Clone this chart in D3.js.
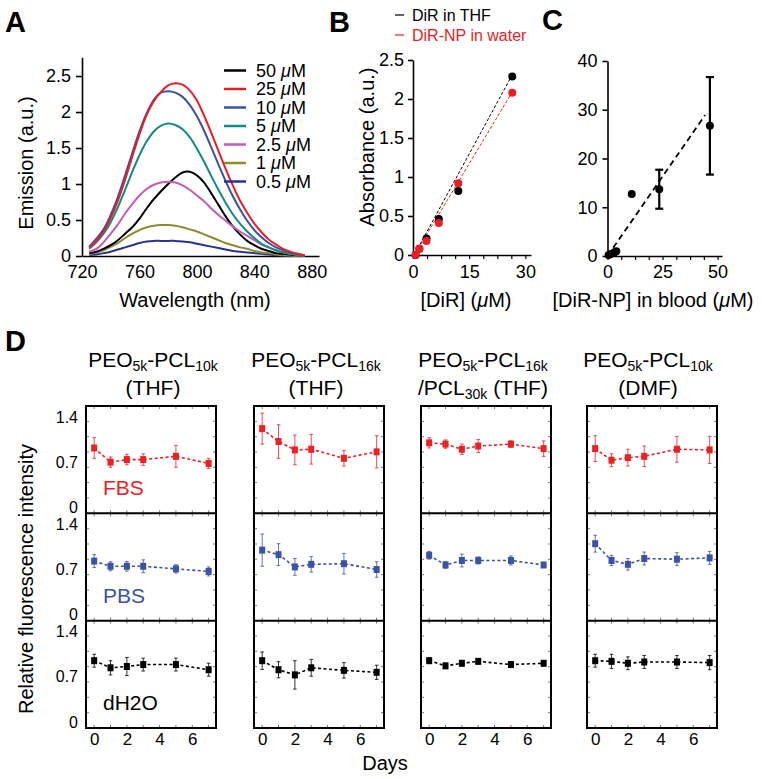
<!DOCTYPE html>
<html><head><meta charset="utf-8">
<script src="https://cdn.jsdelivr.net/npm/d3@7/dist/d3.min.js"></script>
<style>
body{margin:0;background:#fff;}
svg text{font-family:"Liberation Sans",Arial,Helvetica,sans-serif;}
</style></head><body>
<svg id="fig" width="762" height="779" xmlns="http://www.w3.org/2000/svg"></svg>
<script>
// ================= DATA =================
// Panel A: emission spectra
const wavelengths = [725,730,735,740,745,750,755,760,765,770,775,780,785,790,795,800,805,810,815,820,825,830,835,840,845,850,855,860,865,870,875];
const em50  = [0.04,0.06,0.10,0.15,0.22,0.31,0.40,0.52,0.66,0.79,0.90,1.00,1.09,1.16,1.17,1.12,1.02,0.87,0.71,0.55,0.41,0.30,0.21,0.15,0.10,0.07,0.04,0.03,0.02,0.01,0.00];
const em25  = [0.12,0.21,0.34,0.53,0.77,1.06,1.38,1.69,1.96,2.15,2.28,2.37,2.40,2.38,2.30,2.16,1.95,1.71,1.46,1.21,0.98,0.77,0.60,0.45,0.33,0.23,0.16,0.10,0.06,0.03,0.01];
const em10  = [0.13,0.24,0.37,0.57,0.82,1.12,1.43,1.73,1.98,2.17,2.27,2.29,2.27,2.21,2.10,1.94,1.74,1.51,1.27,1.04,0.83,0.65,0.49,0.36,0.26,0.18,0.12,0.08,0.05,0.03,0.01];
const em5   = [0.10,0.19,0.31,0.47,0.68,0.92,1.17,1.40,1.59,1.73,1.81,1.84,1.82,1.76,1.65,1.49,1.31,1.11,0.92,0.74,0.58,0.45,0.34,0.25,0.17,0.12,0.08,0.05,0.03,0.015,0.005];
const em2_5 = [0.06,0.10,0.19,0.31,0.44,0.59,0.72,0.84,0.93,0.99,1.02,1.03,1.02,0.98,0.92,0.84,0.76,0.66,0.57,0.49,0.41,0.34,0.28,0.22,0.16,0.12,0.08,0.05,0.03,0.015,0.005];
const em1   = [0.02,0.05,0.08,0.13,0.18,0.25,0.31,0.36,0.40,0.42,0.43,0.43,0.42,0.40,0.37,0.34,0.30,0.26,0.22,0.18,0.15,0.12,0.10,0.07,0.05,0.04,0.02,0.01,0.01,0,0];
const em0_5 = [0.01,0.02,0.04,0.06,0.09,0.12,0.15,0.18,0.20,0.21,0.21,0.21,0.21,0.20,0.19,0.17,0.15,0.13,0.11,0.09,0.07,0.06,0.05,0.04,0.03,0.02,0.01,0.01,0,0,0];
const concLabels = ["50","25","10","5","2.5","1","0.5"];
const concColors = ["#000000","#ee1d23","#3953a3","#138b83","#c55cb6","#8c8c2e","#2d3190"];
const aWaveTicks = [720,760,800,840,880];
const aEmTicks = [0,0.5,1,1.5,2,2.5];

// Panel B: absorbance vs concentration
const bConc    = [0.7,1.7,3.6,6.9,12.1,26.5];
const bAbsTHF  = [0.00,0.08,0.21,0.46,0.82,2.29];
const bAbsNP   = [0.00,0.08,0.18,0.41,0.92,2.08];
const bFitX    = [0,26.5];
const bFitTHF  = [-0.03,2.31];
const bFitNP   = [-0.03,2.09];
const bXTicks  = [0,15,30];
const bYTicks  = [0,0.5,1,1.5,2,2.5];

// Panel C: signal vs [DiR-NP] in blood
const cConc   = [0.5,1.5,3,4,11,23.5,46.5];
const cSignal = [0.2,0.4,0.7,1.0,12.7,13.7,26.7];
const cErr    = [0,0,0,0,0,4,10];
const cFitX   = [0,44.3];
const cFitY   = [0,28.9];
const cXTicks = [0,25,50];
const cYTicks = [0,10,20,30,40];

// Panel D: relative fluorescence over days
const days = [0,1,2,3,5,7];
const dDayTicks = [0,2,4,6];
const dYTicks = [0,0.7,1.4];
const fbsVals = [[0.92,0.70,0.74,0.74,0.79,0.68],[1.22,1.02,0.89,0.90,0.76,0.86],[1.00,0.98,0.90,0.95,0.98,0.91],[0.91,0.73,0.77,0.79,0.90,0.89]];
const fbsErr  = [[0.16,0.08,0.08,0.09,0.17,0.08],[0.24,0.26,0.23,0.23,0.12,0.25],[0.08,0.065,0.08,0.10,0.05,0.12],[0.20,0.10,0.13,0.16,0.20,0.21]];
const pbsVals = [[0.83,0.75,0.75,0.75,0.71,0.67],[1.00,0.93,0.74,0.78,0.79,0.70],[0.92,0.77,0.84,0.84,0.84,0.77],[1.10,0.84,0.78,0.87,0.86,0.88]];
const pbsErr  = [[0.10,0.07,0.075,0.10,0.065,0.07],[0.25,0.17,0.13,0.12,0.16,0.12],[0.06,0.05,0.10,0.055,0.07,0.04],[0.13,0.08,0.09,0.10,0.10,0.10]];
const h2oVals = [[0.95,0.84,0.86,0.89,0.89,0.81],[0.95,0.81,0.73,0.84,0.80,0.77],[0.95,0.87,0.91,0.94,0.89,0.91],[0.95,0.94,0.91,0.93,0.93,0.92]];
const h2oErr  = [[0.10,0.11,0.14,0.10,0.10,0.10],[0.135,0.125,0.22,0.13,0.12,0.11],[0.04,0.04,0.04,0.04,0.04,0.04],[0.10,0.11,0.10,0.10,0.10,0.11]];
const mediaLabels = ["FBS","PBS","dH2O"];
const mediaColors = ["#ed2024","#3a53a6","#000000"];
const dTitles = [
  [[["PEO"],["5k",1],["-PCL"],["10k",1]], [["(THF)"]]],
  [[["PEO"],["5k",1],["-PCL"],["16k",1]], [["(THF)"]]],
  [[["PEO"],["5k",1],["-PCL"],["16k",1]], [["/PCL"],["30k",1],[" (THF)"]]],
  [[["PEO"],["5k",1],["-PCL"],["10k",1]], [["(DMF)"]]]
];

// ================= DRAWING =================
const svg = d3.select("#fig");
const FONT = '"Liberation Sans",Arial,Helvetica,sans-serif';

function styleAxis(g, fs, sw){
  g.attr("font-size", fs).attr("font-family", FONT);
  g.selectAll("path,line").attr("stroke","#000").attr("stroke-width", sw||1.6);
  g.selectAll("text").attr("fill","#000");
}
function label(x,y,txt,opts){
  const t = svg.append("text").attr("x",x).attr("y",y).text(txt)
    .attr("font-size",(opts&&opts.fs)||20).attr("text-anchor",(opts&&opts.anchor)||"middle")
    .attr("fill",(opts&&opts.fill)||"#000");
  if(opts&&opts.bold) t.attr("font-weight","bold");
  if(opts&&opts.rot) t.attr("transform",`rotate(-90 ${x} ${y})`);
  return t;
}
function muText(x,y,pre,post,opts){
  const t = svg.append("text").attr("x",x).attr("y",y)
    .attr("font-size",(opts&&opts.fs)||20).attr("text-anchor",(opts&&opts.anchor)||"middle")
    .attr("fill",(opts&&opts.fill)||"#000");
  if(opts&&opts.rot) t.attr("transform",`rotate(-90 ${x} ${y})`);
  t.append("tspan").text(pre);
  t.append("tspan").attr("font-style","italic").text("\u03bc");
  t.append("tspan").text(post);
  return t;
}

// Panel letters
label(5,32,"A",{fs:29,bold:true,anchor:"start"});
label(329,32,"B",{fs:29,bold:true,anchor:"start"});
label(542,30,"C",{fs:29,bold:true,anchor:"start"});
label(5,351,"D",{fs:29,bold:true,anchor:"start"});

// ---------- Panel A ----------
const xA = d3.scaleLinear().domain([720,885]).range([82,319]);
const yA = d3.scaleLinear().domain([0,2.76]).range([256,57.3]);
const gAx = svg.append("g").attr("transform","translate(0,256)")
  .call(d3.axisBottom(xA).tickValues(aWaveTicks).tickSize(0).tickPadding(9).tickSizeOuter(0).tickFormat(d=>d));
styleAxis(gAx,18);
const gAy = svg.append("g").attr("transform",`translate(${xA(720)},0)`)
  .call(d3.axisLeft(yA).tickValues(aEmTicks).tickSize(6).tickPadding(5).tickSizeOuter(0).tickFormat(d=>d));
styleAxis(gAy,18);
const series = [em50,em25,em10,em5,em2_5,em1,em0_5];
const lineA = d3.line().x((d,i)=>xA(wavelengths[i])).y(d=>yA(d)).curve(d3.curveCatmullRom);
[6,5,0,4,3,2,1].forEach(k=>{
  svg.append("path").datum(series[k]).attr("d",lineA).attr("fill","none")
    .attr("stroke",concColors[k]).attr("stroke-width",2);
});
concLabels.forEach((c,i)=>{
  const cy = 70.5 + i*18.5;
  svg.append("line").attr("x1",224).attr("x2",246).attr("y1",cy).attr("y2",cy)
    .attr("stroke",concColors[i]).attr("stroke-width",2.5);
  muText(256,cy+6.3,c+" ","M",{fs:18,anchor:"start"});
});
label(33,163,"Emission (a.u.)",{fs:20,rot:true});
label(195,307,"Wavelength (nm)",{fs:20});

// ---------- Panel B ----------
const xB = d3.scaleLinear().domain([0,31.5]).range([413,531]);
const yB = d3.scaleLinear().domain([0,2.5]).range([255,60]);
const gBx = svg.append("g").attr("transform","translate(0,255)")
  .call(d3.axisBottom(xB).tickValues(bXTicks).tickSize(0).tickPadding(10).tickSizeOuter(0).tickFormat(d=>d));
styleAxis(gBx,18);
const gBxm = svg.append("g").attr("transform","translate(0,255)")
  .call(d3.axisBottom(xB).tickValues(d3.range(0,30.01,3.75)).tickSize(4).tickFormat(""));
gBxm.select(".domain").remove(); styleAxis(gBxm,10,1.2);
const gBy = svg.append("g").attr("transform",`translate(${xB(0)},0)`)
  .call(d3.axisLeft(yB).tickValues(bYTicks).tickSize(5).tickPadding(4).tickSizeOuter(0).tickFormat(d=>d));
styleAxis(gBy,18);
const lineB = d3.line().x((d,i)=>xB(bFitX[i])).y(d=>yB(d));
svg.append("path").datum(bFitTHF).attr("d",lineB).attr("stroke","#000").attr("stroke-width",1).attr("stroke-dasharray","3,2").attr("fill","none");
svg.append("path").datum(bFitNP).attr("d",lineB).attr("stroke","#ee1d23").attr("stroke-width",1).attr("stroke-dasharray","3,2").attr("fill","none");
bConc.forEach((c,i)=>{
  svg.append("circle").attr("cx",xB(c)).attr("cy",yB(bAbsTHF[i])).attr("r",4).attr("fill","#000");
});
bConc.forEach((c,i)=>{
  svg.append("circle").attr("cx",xB(c)).attr("cy",yB(bAbsNP[i])).attr("r",4).attr("fill","#ee1d23");
});
svg.append("line").attr("x1",395).attr("x2",404).attr("y1",15).attr("y2",15).attr("stroke","#000").attr("stroke-width",1.2);
label(412,21,"DiR in THF",{fs:16,anchor:"start"});
svg.append("line").attr("x1",395).attr("x2",404).attr("y1",35).attr("y2",35).attr("stroke","#ee1d23").attr("stroke-width",1.2);
label(412,41,"DiR-NP in water",{fs:16,anchor:"start",fill:"#ee1d23"});
label(374,147,"Absorbance (a.u.)",{fs:20,rot:true});
muText(466,307,"[DiR] (","M)",{fs:20});

// ---------- Panel C ----------
const xC = d3.scaleLinear().domain([0,52]).range([607.5,722]);
const yC = d3.scaleLinear().domain([0,40]).range([256,61]);
const gCx = svg.append("g").attr("transform","translate(0,256)")
  .call(d3.axisBottom(xC).tickValues(cXTicks).tickSize(0).tickPadding(9).tickSizeOuter(0).tickFormat(d=>d));
styleAxis(gCx,18);
const gCxm = svg.append("g").attr("transform","translate(0,256)")
  .call(d3.axisBottom(xC).tickValues(d3.range(0,50.01,6.25)).tickSize(4).tickFormat(""));
gCxm.select(".domain").remove(); styleAxis(gCxm,10,1.2);
const gCy = svg.append("g").attr("transform",`translate(${xC(0)},0)`)
  .call(d3.axisLeft(yC).tickValues(cYTicks).tickSize(5).tickPadding(5).tickSizeOuter(0).tickFormat(d=>d));
styleAxis(gCy,18);
const lineC = d3.line().x((d,i)=>xC(cFitX[i])).y(d=>yC(d));
svg.append("path").datum(cFitY).attr("d",lineC).attr("stroke","#000").attr("stroke-width",1.8).attr("stroke-dasharray","6,4").attr("fill","none");
cConc.forEach((c,i)=>{
  if(cErr[i]>0){
    const x = xC(c), y1 = yC(cSignal[i]+cErr[i]), y2 = yC(cSignal[i]-cErr[i]);
    svg.append("line").attr("x1",x).attr("x2",x).attr("y1",y1).attr("y2",y2).attr("stroke","#000").attr("stroke-width",2.2);
    [y1,y2].forEach(yy=>svg.append("line").attr("x1",x-4).attr("x2",x+4).attr("y1",yy).attr("y2",yy).attr("stroke","#000").attr("stroke-width",2.2));
  }
  svg.append("circle").attr("cx",xC(c)).attr("cy",yC(cSignal[i])).attr("r",4).attr("fill","#000");
});
muText(653,307,"[DiR-NP] in blood (","M)",{fs:20});

// ---------- Panel D ----------
const dCols = [86,254,421,587], dW = 130, dTop = 406, dRowH = 107.33;
const titleX = [153,316,483,648];
const allVals = [fbsVals,pbsVals,h2oVals], allErr = [fbsErr,pbsErr,h2oErr];

function richText(x,y,parts){
  const t = svg.append("text").attr("x",x).attr("y",y).attr("text-anchor","middle").attr("font-size",21).attr("fill","#000");
  let sub = false;
  parts.forEach(p=>{
    const s = t.append("tspan").text(p[0]);
    if(p[1]){ s.attr("font-size",14).attr("dy", sub?0:4); sub = true; }
    else { if(sub) s.attr("dy",-4); sub = false; }
  });
}

dCols.forEach((L,c)=>{
  const x = d3.scaleLinear().domain([-0.5,7.45]).range([L,L+dW]);
  for(let r=0;r<3;r++){
    const T = dTop + r*dRowH, B = T + dRowH;
    const y = d3.scaleLinear().domain([0,1.4]).range([B-6,T+11]);
    const side = d3.scaleLinear().domain([0,7]).range([B,T]);
    const tg = svg.append("g").attr("stroke","#555").attr("stroke-width",0.8);
    d3.range(0,8).forEach(d=>{
      tg.append("line").attr("x1",x(d)).attr("x2",x(d)).attr("y1",T).attr("y2",T+3);
      tg.append("line").attr("x1",x(d)).attr("x2",x(d)).attr("y1",B).attr("y2",B-3);
    });
    d3.range(1,7).forEach(k=>{
      tg.append("line").attr("x1",L).attr("x2",L+3).attr("y1",side(k)).attr("y2",side(k));
      tg.append("line").attr("x1",L+dW).attr("x2",L+dW-3).attr("y1",side(k)).attr("y2",side(k));
    });
    const vals = allVals[r][c], errs = allErr[r][c], col = mediaColors[r];
    const ln = d3.line().x((d,i)=>x(days[i])).y(d=>y(d));
    svg.append("path").datum(vals).attr("d",ln).attr("fill","none").attr("stroke",col)
      .attr("stroke-width",1.6).attr("stroke-dasharray","3,2.5");
    vals.forEach((v,i)=>{
      const xx = x(days[i]), y1 = y(v+errs[i]), y2 = y(v-errs[i]);
      svg.append("line").attr("x1",xx).attr("x2",xx).attr("y1",y1).attr("y2",y2).attr("stroke",col).attr("stroke-width",0.8);
      [y1,y2].forEach(yy=>svg.append("line").attr("x1",xx-1.8).attr("x2",xx+1.8).attr("y1",yy).attr("y2",yy).attr("stroke",col).attr("stroke-width",0.8));
      svg.append("rect").attr("x",xx-3).attr("y",y(v)-3.5).attr("width",6).attr("height",7).attr("fill",col);
    });
    if(c===0){
      const ga = svg.append("g").attr("transform",`translate(${L},0)`)
        .call(d3.axisLeft(y).tickValues(dYTicks).tickSize(0).tickPadding(8).tickFormat(d=>d));
      ga.select(".domain").remove(); styleAxis(ga,16);
      const ly = [495,603,710][r];
      label(L+17,ly,mediaLabels[r],{fs:21,anchor:"start",fill:mediaColors[r]});
    }
    if(r===2){
      const gx = svg.append("g").attr("transform",`translate(0,${B})`)
        .call(d3.axisBottom(x).tickValues(dDayTicks).tickSize(0).tickPadding(5).tickFormat(d=>d));
      gx.select(".domain").remove(); styleAxis(gx,17);
    }
  }
  svg.append("rect").attr("x",L).attr("y",dTop).attr("width",dW).attr("height",3*dRowH)
    .attr("fill","none").attr("stroke","#000").attr("stroke-width",2);
  [1,2].forEach(k=>svg.append("line").attr("x1",L).attr("x2",L+dW).attr("y1",dTop+k*dRowH).attr("y2",dTop+k*dRowH)
    .attr("stroke","#000").attr("stroke-width",2));
  richText(titleX[c],367,dTitles[c][0]);
  richText(titleX[c],395,dTitles[c][1]);
});
label(33,579,"Relative fluorescence intensity",{fs:20,rot:true});
label(385,770,"Days",{fs:20});
</script>
</body></html>
